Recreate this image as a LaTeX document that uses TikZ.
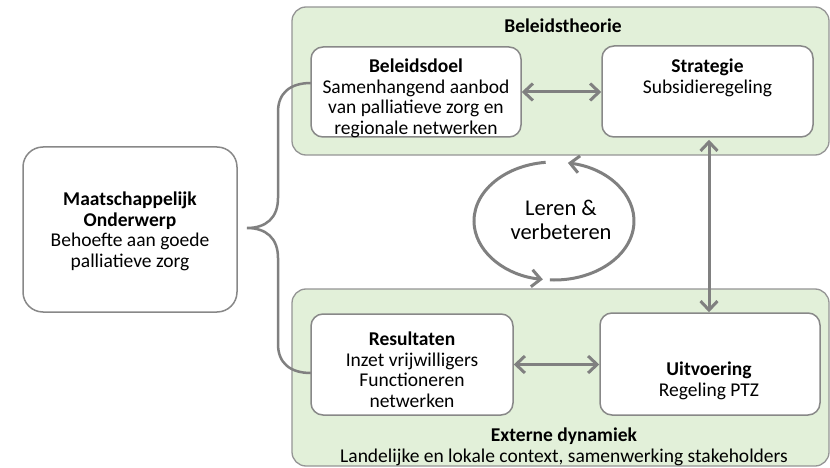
\documentclass[tikz,border=0pt]{standalone}
\usepackage{fontspec}
\setmainfont{Carlito}
\usetikzlibrary{arrows.meta}
\definecolor{gfill}{HTML}{E2F0D9}
\definecolor{gline}{HTML}{808080}
\definecolor{bline}{HTML}{888888}
\definecolor{pline}{HTML}{959595}
\tikzset{
  panel/.style={draw=pline, fill=gfill, line width=1.3pt, rounded corners=14pt, inner sep=0pt},
  box/.style={draw=bline, fill=white, line width=1.5pt, rounded corners=12pt, inner sep=0pt},
  txt/.style={inner sep=0pt, align=center, text=black, font=\fontsize{19.5}{20.8}\selectfont},
  bigtxt/.style={inner sep=0pt, align=center, text=black, font=\fontsize{22.5}{23.5}\selectfont},
  barb/.tip={Straight Barb[length=9pt,width=17pt]},
  dblarrow/.style={draw=gline, line width=3pt, barb-barb},
  cycarrow/.style={draw=gline, line width=3pt, -barb},
  bracepath/.style={draw=gline, line width=2.5pt}
}
\begin{document}
\begin{tikzpicture}[x=1pt,y=-1pt]
\useasboundingbox (0,0) rectangle (830,468);
\fill[white] (0,0) rectangle (830,468);

% panels
\node[panel, minimum width=537pt, minimum height=148pt] (theorie) at (560.5,81) {};
\node[panel, minimum width=537pt, minimum height=177pt] (dynamiek) at (560.5,377.5) {};

% brace from the societal topic to the goal and the results
\coordinate (bt) at (311,83);
\coordinate (bb) at (311,373);
\coordinate (btip) at (247,228);
\draw[bracepath] (bt) .. controls (290,83) and (278,93) .. (278,112) -- (278,198)
  .. controls (278,218) and (266,228) .. (btip)
  .. controls (266,228) and (278,238) .. (278,258) -- (278,344)
  .. controls (278,363) and (290,373) .. (bb);

% boxes
\node[box, minimum width=214pt, minimum height=165pt, rounded corners=20pt] (maat) at (130,229.5) {};
\node[box, minimum width=210pt, minimum height=90pt] (doel) at (416,92) {};
\node[box, minimum width=211pt, minimum height=91pt] (strat) at (707.5,91.5) {};
\node[box, minimum width=202pt, minimum height=101pt] (res) at (412,364.5) {};
\node[box, minimum width=220pt, minimum height=102pt] (uitv) at (710,364) {};

% texts
\node[txt, anchor=base] (theorie-t) at (563,33) {\textbf{Beleidstheorie}};
\node[txt, anchor=north] (maat-t) at (130,191.5) {\textbf{Maatschappelijk}\\\textbf{Onderwerp}\\Behoefte aan goede\\palliatieve zorg};
\node[txt, anchor=north] (doel-t) at (416,58.5) {\textbf{Beleidsdoel}\\Samenhangend aanbod\\van palliatieve zorg en\\regionale netwerken};
\node[txt, anchor=north] (strat-t) at (707.5,58.5) {\textbf{Strategie}\\Subsidieregeling};
\node[txt, anchor=north] (res-t) at (412,331.5) {\textbf{Resultaten}\\Inzet vrijwilligers\\Functioneren\\netwerken};
\node[txt, anchor=north] (uitv-t) at (709,361.5) {\textbf{Uitvoering}\\Regeling PTZ};
\node[txt, anchor=north] (dynamiek-t) at (564,427.5) {\textbf{Externe dynamiek}\\Landelijke en lokale context, samenwerking stakeholders};

% arrows
\draw[dblarrow] (doel.east) -- (doel.east -| strat.west);
\draw[dblarrow] (res.east) -- (res.east -| uitv.west);
\draw[dblarrow] ([xshift=1.5pt,yshift=-2pt]strat.south) -- ([xshift=1.5pt]strat.south |- uitv.north);

% learning cycle
\coordinate (lc) at (554,221);
\draw[cycarrow] ([shift={(96:80pt and 59pt)}]lc) arc[start angle=96, end angle=262, x radius=80pt, y radius=59pt];
\draw[cycarrow] ([shift={(-93:80pt and 59pt)}]lc) arc[start angle=-93, end angle=80, x radius=80pt, y radius=59pt];
\node[bigtxt, anchor=north] (leren) at (561,200) {Leren \&\\verbeteren};
\end{tikzpicture}
\end{document}
